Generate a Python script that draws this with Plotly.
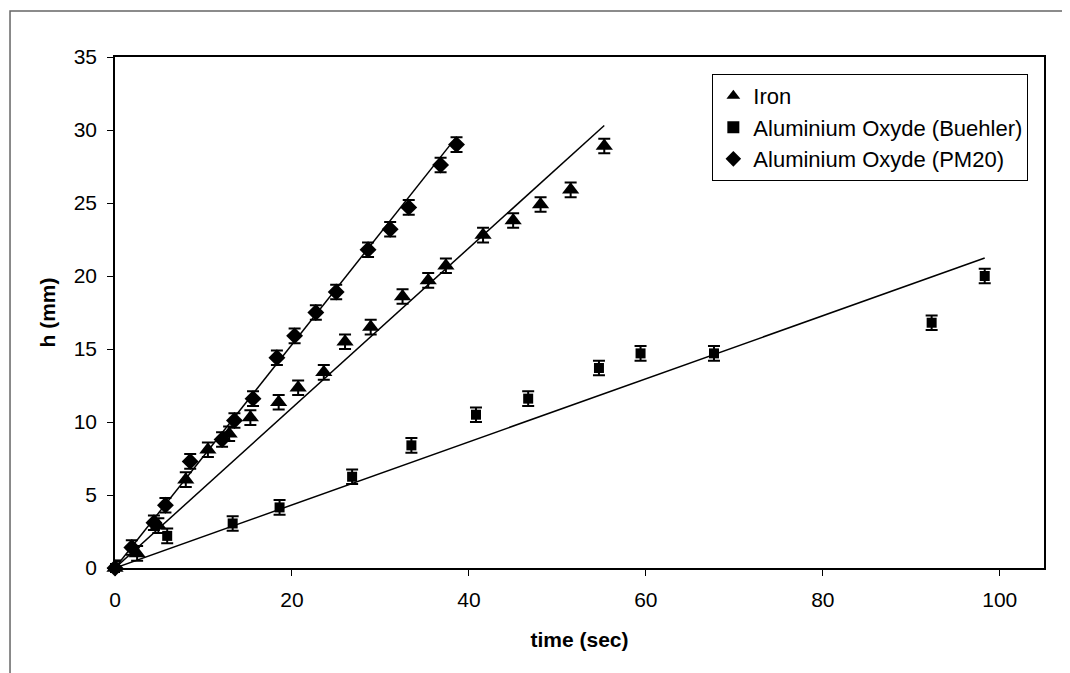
import plotly.graph_objects as go
import numpy as np

# ---- data ----
iron_t = [0, 2.5, 4.9, 8.0, 10.5, 12.9, 15.3, 18.5, 20.7, 23.6, 26.0, 28.9, 32.5, 35.4, 37.4, 41.6, 45.0, 48.1, 51.5, 55.3]
iron_h = [0, 1.0, 2.9, 6.05, 8.1, 9.2, 10.3, 11.35, 12.35, 13.4, 15.5, 16.5, 18.6, 19.7, 20.7, 22.8, 23.8, 24.9, 25.9, 28.9]

buehler_t = [0, 5.9, 13.3, 18.6, 26.8, 33.5, 40.8, 46.7, 54.7, 59.4, 67.7, 92.3, 98.3]
buehler_h = [0, 2.2, 3.05, 4.15, 6.25, 8.4, 10.5, 11.6, 13.7, 14.7, 14.7, 16.8, 20.0]

pm20_t = [0, 1.9, 4.4, 5.7, 8.5, 12.1, 13.5, 15.6, 18.3, 20.3, 22.7, 25.0, 28.6, 31.1, 33.2, 36.8, 38.6]
pm20_h = [0, 1.4, 3.1, 4.3, 7.3, 8.8, 10.1, 11.6, 14.4, 15.9, 17.5, 18.9, 21.8, 23.2, 24.7, 27.6, 29.0]

err_mm = 0.5  # symmetric error bar half-height

series_names = ["Iron", "Aluminium Oxyde (Buehler)", "Aluminium Oxyde (PM20)"]
fit_slopes = [0.548, 0.216, 0.765]   # trendlines through origin
fit_intercepts = [0.0, 0.0, 0.0]

x_ticks = [0, 20, 40, 60, 80, 100]
y_ticks = [0, 5, 10, 15, 20, 25, 30, 35]

FONT = "Arial, Liberation Sans, sans-serif"

fig = go.Figure()

series = [
    (iron_t, iron_h, "triangle-up", 15),
    (buehler_t, buehler_h, "square", 10),
    (pm20_t, pm20_h, "diamond", 13),
]

# trend lines
for (t, h, sym, sz), k, b in zip(series, fit_slopes, fit_intercepts):
    tt = np.array([0, max(t)])
    fig.add_trace(go.Scatter(x=tt, y=k * tt + b, mode="lines",
                             line=dict(color="black", width=1.5),
                             showlegend=False, hoverinfo="skip"))

for (t, h, sym, sz), name in zip(series, series_names):
    fig.add_trace(go.Scatter(
        x=t, y=h, mode="markers", name=name,
        marker=dict(symbol=sym, size=sz, color="black"),
        error_y=dict(type="constant", value=err_mm, color="black",
                     thickness=2, width=6),
        cliponaxis=False,
    ))

# page body has an 8px margin, so the figure is offset accordingly
fig.update_layout(
    width=1070, height=673,
    paper_bgcolor="white", plot_bgcolor="white",
    margin=dict(l=107, r=34, t=49, b=113),
    font=dict(family=FONT, size=20, color="black"),
    showlegend=True,
    legend=dict(x=0.643, y=0.967, xanchor="left", yanchor="top",
                bordercolor="black", borderwidth=1, bgcolor="white",
                font=dict(family=FONT, size=22, color="black"),
                itemsizing="constant", tracegroupgap=0,
                traceorder="normal"),
    xaxis=dict(range=[0, 105], tickvals=x_ticks, showgrid=False, zeroline=False,
               showline=True, linecolor="black", linewidth=1.5, mirror=True,
               ticks="outside", ticklen=6, tickcolor="black",
               tickfont=dict(size=21), ticklabelstandoff=6,
               title=dict(text="<b>time (sec)</b>", font=dict(size=21), standoff=22)),
    yaxis=dict(range=[0, 35], tickvals=y_ticks, showgrid=False, zeroline=False,
               showline=True, linecolor="black", linewidth=1.5, mirror=True,
               ticks="outside", ticklen=6, tickcolor="black",
               tickfont=dict(size=21), ticklabelstandoff=6,
               title=dict(text="<b>h (mm)</b>", font=dict(size=21), standoff=12)),
    shapes=[dict(type="rect", xref="paper", yref="paper",
                 x0=-0.113, x1=1.06, y0=-0.25, y1=1.09,
                 line=dict(color="#666666", width=1.5), layer="below")],
)

fig.write_html("out.html")
